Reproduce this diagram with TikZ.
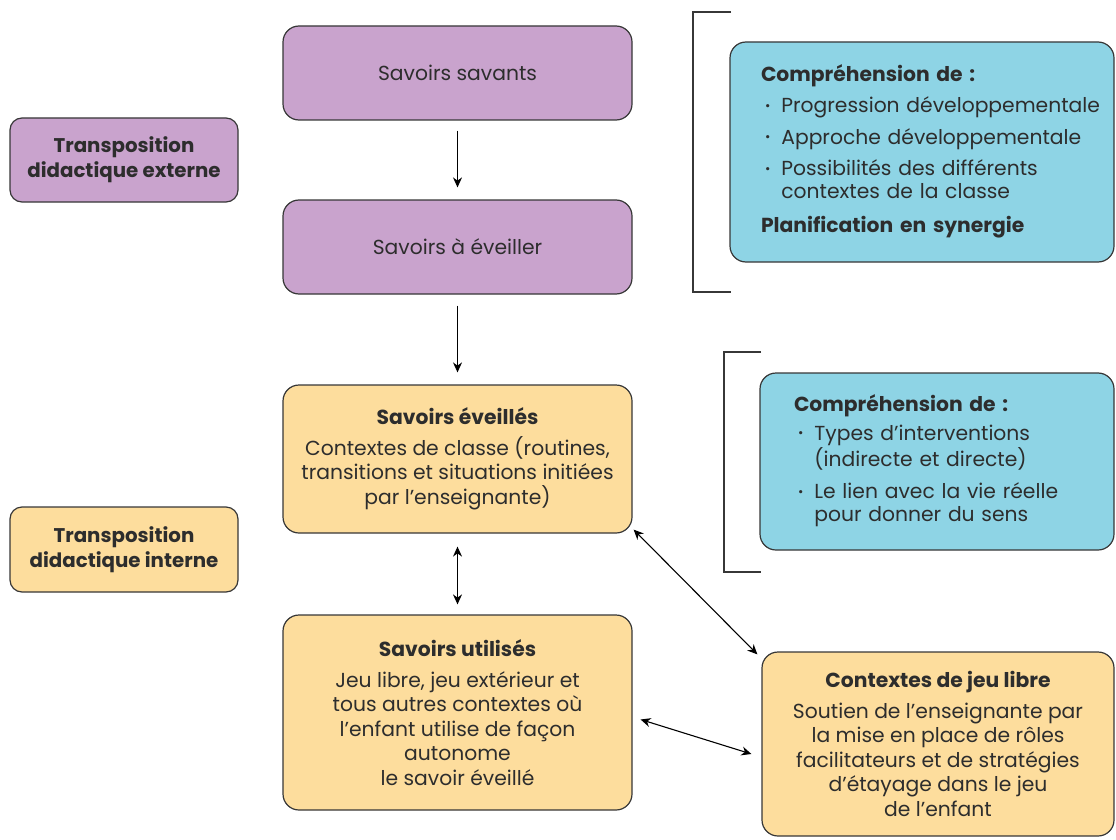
\documentclass[tikz,border=0pt]{standalone}
\usepackage{fontspec}
\setmainfont{Poppins}
\usetikzlibrary{arrows.meta,calc}
\definecolor{purp}{RGB}{201,163,205}
\definecolor{yel}{RGB}{253,221,157}
\definecolor{blu}{RGB}{142,212,229}
\definecolor{edge}{RGB}{55,55,55}
\definecolor{ink}{RGB}{45,45,45}
\newcommand{\blt}{\raisebox{2.5pt}{\fontsize{13}{13}\selectfont\textbullet}}
\begin{document}
\begin{tikzpicture}[x=1pt,y=-1pt,
  box/.style={draw=edge, line width=1.2pt, rounded corners=16pt, inner sep=0pt, align=center,
    text=ink, font=\fontsize{20.3}{24.5}\selectfont},
  smallbox/.style={box, rounded corners=12pt, font=\fontsize{19.8}{25}\selectfont\bfseries},
  purpbox/.style={fill=purp},
  yelbox/.style={fill=yel},
  blubox/.style={fill=blu, align=left, font=\fontsize{20.3}{22.5}\selectfont},
  arr/.style={-{Stealth[length=10pt,width=9pt]}, line width=1.1pt, black},
  darr/.style={{Stealth[length=10pt,width=9pt]}-{Stealth[length=10pt,width=9pt]}, line width=1.1pt, black},
  brk/.style={line width=1.3pt, edge}]
\useasboundingbox (0,0) rectangle (1116,840);

% left labels
\node[smallbox,purpbox,minimum width=228pt,minimum height=84pt] (ext) at (124,160)
  {Transposition\\didactique externe};
\node[smallbox,yelbox,minimum width=228pt,minimum height=85pt] (int) at (124,549.5)
  {Transposition\\didactique interne};

% central column
\node[box,purpbox,minimum width=349pt,minimum height=94pt] (sav) at (457.5,73) {Savoirs savants};
\node[box,purpbox,minimum width=349pt,minimum height=94pt] (aev) at (457.5,247) {Savoirs à éveiller};
\node[box,yelbox,minimum width=349pt,minimum height=148pt] (evei) at (457.5,459)
  {\textbf{Savoirs éveillés}\\[6pt]Contextes de classe (routines,\\transitions et situations initiées\\par l'enseignante)};
\node[box,yelbox,minimum width=349pt,minimum height=195pt] (util) at (457.5,712.5)
  {\textbf{Savoirs utilisés}\\[6pt]Jeu libre, jeu extérieur et\\tous autres contextes où\\l’enfant utilise de façon\\autonome\\le savoir éveillé};
\node[box,yelbox,minimum width=352pt,minimum height=184pt] (jeu) at (938,744)
  {\textbf{Contextes de jeu libre}\\[6pt]Soutien de l’enseignante par\\la mise en place de rôles\\facilitateurs et de stratégies\\d’étayage dans le jeu\\de l’enfant};

% blue boxes
\node[box,blubox,minimum width=384pt,minimum height=220pt,text width=360pt] (bl1) at (922,152)
  {\hspace*{19pt}\begin{tabular}{@{}l@{\hspace{11pt}}l@{}}
   \multicolumn{2}{@{}l@{}}{\textbf{Compréhension de :}}\\[8pt]
   \hspace{4pt}\blt & Progression développementale\\[9pt]
   \hspace{4pt}\blt & Approche développementale\\[9pt]
   \hspace{4pt}\blt & Possibilités des différents\\
                    & contextes de la classe\\[11pt]
   \multicolumn{2}{@{}l@{}}{\textbf{Planification en synergie}}
   \end{tabular}};
\node[box,blubox,minimum width=354pt,minimum height=177pt,text width=330pt] (bl2) at (937,461.5)
  {\hspace*{22pt}\begin{tabular}{@{}l@{\hspace{11pt}}l@{}}
   \multicolumn{2}{@{}l@{}}{\textbf{Compréhension de :}}\\[6pt]
   \hspace{4pt}\blt & Types d’interventions\\
                    & (indirecte et directe)\\[10pt]
   \hspace{4pt}\blt & Le lien avec la vie réelle\\
                    & pour donner du sens
   \end{tabular}};

% brackets
\coordinate (b1a) at (731,12);
\coordinate (b1b) at (693,12);
\coordinate (b1c) at (693,292);
\coordinate (b1d) at (731,292);
\draw[brk] (b1a) -- (b1b) -- (b1c) -- (b1d);
\coordinate (b2a) at (761,352);
\coordinate (b2b) at (724,352);
\coordinate (b2c) at (724,572);
\coordinate (b2d) at (761,572);
\draw[brk] (b2a) -- (b2b) -- (b2c) -- (b2d);

% arrows
\draw[arr, shorten <=10pt, shorten >=12pt] (sav) -- (aev);
\draw[arr, shorten <=11pt, shorten >=12pt] (aev) -- (evei);
\draw[darr, shorten <=13pt, shorten >=10pt] (evei) -- (util);
\draw[darr] ([xshift=1pt,yshift=4pt]evei.south east) -- ([xshift=-4pt,yshift=-3pt]jeu.north west);
\draw[darr] ([xshift=8pt,yshift=-7pt]util.east) -- ([xshift=-10pt,yshift=-10pt]jeu.west);
\end{tikzpicture}
\end{document}
